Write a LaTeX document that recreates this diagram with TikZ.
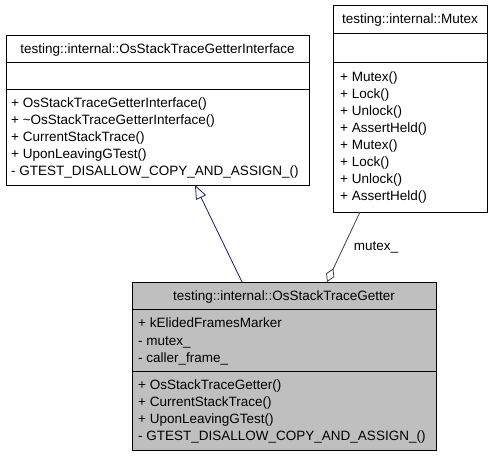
\documentclass[tikz,border=0pt]{standalone}
\usepackage{fontspec}
\setmainfont{Liberation Sans}
\usetikzlibrary{arrows.meta,calc}
\definecolor{inhcol}{RGB}{25,25,112}
\definecolor{aggcol}{RGB}{64,64,64}
\definecolor{boxgray}{RGB}{191,191,191}
\begin{document}
\begin{tikzpicture}[x=1pt,y=-1pt,
  box/.style={draw=black,line width=0.8pt,inner sep=0pt,outer sep=0pt,anchor=north west},
  txt/.style={anchor=base west,inner sep=0pt,font=\fontsize{13.5}{15}\selectfont},
  ttl/.style={anchor=base,inner sep=0pt,font=\fontsize{13.5}{15}\selectfont},
  sepline/.style={line width=0.8pt}]
\useasboundingbox (0,0) rectangle (493,459);
% interface box
\node[box,minimum width=303pt,minimum height=150pt] (iface) at (6,35) {};
\draw[sepline] ($(iface.north west)+(0,27)$) -- ($(iface.north east)+(0,27)$);
\draw[sepline] ($(iface.north west)+(0,54)$) -- ($(iface.north east)+(0,54)$);
\node[ttl] (ifacet) at (157.5,53) {testing::internal::OsStackTraceGetterInterface};
\node[txt] (if1) at (11,107) {+ OsStackTraceGetterInterface()};
\node[txt] (if2) at (11,124) {+ \textasciitilde OsStackTraceGetterInterface()};
\node[txt] (if3) at (11,141) {+ CurrentStackTrace()};
\node[txt] (if4) at (11,158) {+ UponLeavingGTest()};
\node[txt] (if5) at (11,175) {- GTEST\_DISALLOW\_COPY\_AND\_ASSIGN\_()};
% mutex box
\node[box,minimum width=154pt,minimum height=207pt] (mutex) at (333,5) {};
\draw[sepline] ($(mutex.north west)+(0,28)$) -- ($(mutex.north east)+(0,28)$);
\draw[sepline] ($(mutex.north west)+(0,57)$) -- ($(mutex.north east)+(0,57)$);
\node[ttl] (mutext) at (410,23.5) {testing::internal::Mutex};
\node[txt] (mx1) at (340,81.5) {+ Mutex()};
\node[txt] (mx2) at (340,98.5) {+ Lock()};
\node[txt] (mx3) at (340,115.5) {+ Unlock()};
\node[txt] (mx4) at (340,132.5) {+ AssertHeld()};
\node[txt] (mx5) at (340,149.5) {+ Mutex()};
\node[txt] (mx6) at (340,166.5) {+ Lock()};
\node[txt] (mx7) at (340,183.5) {+ Unlock()};
\node[txt] (mx8) at (340,200.5) {+ AssertHeld()};
% getter box
\node[box,fill=boxgray,minimum width=304pt,minimum height=168pt] (bot) at (132,282) {};
\draw[sepline] ($(bot.north west)+(0,27)$) -- ($(bot.north east)+(0,27)$);
\draw[sepline] ($(bot.north west)+(0,89)$) -- ($(bot.north east)+(0,89)$);
\node[ttl] (bott) at (284,300) {testing::internal::OsStackTraceGetter};
\node[txt] (b1) at (138,327.5) {+ kElidedFramesMarker};
\node[txt] (b2) at (138,345) {- mutex\_};
\node[txt] (b3) at (138,362.5) {- caller\_frame\_};
\node[txt] (b4) at (138,389.5) {+ OsStackTraceGetter()};
\node[txt] (b5) at (138,406.5) {+ CurrentStackTrace()};
\node[txt] (b6) at (138,423.5) {+ UponLeavingGTest()};
\node[txt] (b7) at (138,440.5) {- GTEST\_DISALLOW\_COPY\_AND\_ASSIGN\_()};
% connectors
\draw[inhcol,line width=0.8pt,-{Triangle[open,length=14pt,width=11pt]}]
  ([xshift=110pt]bot.north west) -- ([xshift=189pt]iface.south west);
\draw[aggcol,line width=0.8pt,{Diamond[open,length=15pt,width=9pt]}-]
  ([xshift=195pt]bot.north west) -- ([xshift=27pt]mutex.south west)
  node[pos=0.5,right=10pt,inner sep=0pt,black,font=\fontsize{13.5}{15}\selectfont] (agglbl) {mutex\_};
\end{tikzpicture}
\end{document}
